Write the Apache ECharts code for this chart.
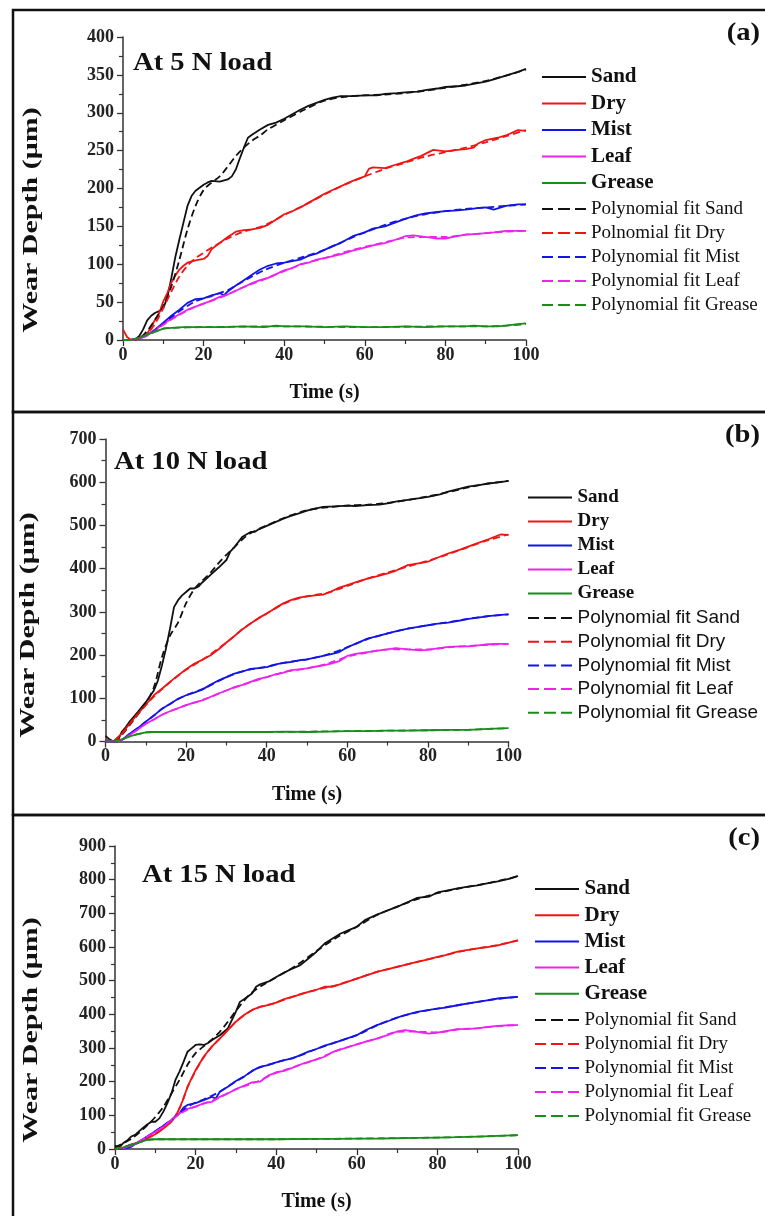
<!DOCTYPE html>
<html>
<head>
<meta charset="utf-8">
<script src="https://cdn.jsdelivr.net/npm/echarts@6/dist/echarts.min.js"></script>
<style>
html, body { margin: 0; padding: 0; background: #fff; }
#main { width: 765px; height: 1216px; }
</style>
</head>
<body>
<div id="main"></div>
<script>
// ---------- data read off the figure : [time (s), wear depth (um)] ----------
// panel (a) 5 N
var sandA = [[0,0],[2,0],[3,1],[4,5],[5,14],[6,26],[7,32],[8,36],[9,38],[10,42],[11,56],[12,82],[13,110],[14,133],[15,155],[16,177],[17,190],[18,197],[19,201],[20,205],[21,208],[22,210],[24,209],[26,212],[27,216],[28,225],[29,240],[30,254],[31,267],[32,271],[34,278],[36,284],[38,287],[40,292],[42,298],[44,304],[46,309],[48,313],[50,317],[52,320],[54,322],[57,322],[60,323],[63,323],[65,325],[68,326],[70,327],[73,328],[75,330],[78,332],[80,334],[83,335],[85,336],[88,339],[90,341],[92,344],[95,349],[98,354],[100,358]];
var dryA = [[0,14],[1,4],[2,0],[4,2],[6,8],[7,18],[8,27],[9,36],[10,51],[11,62],[12,76],[13,85],[14,93],[15,98],[16,102],[18,105],[20,107],[21,111],[22,120],[23,124],[24,128],[26,136],[28,143],[30,145],[32,146],[34,148],[36,152],[38,159],[40,166],[42,170],[44,175],[46,181],[48,187],[50,193],[52,198],[54,203],[57,210],[60,216],[61,226],[62,228],[65,227],[68,232],[70,235],[72,239],[74,243],[77,251],[80,249],[83,251],[85,252],[87,254],[88,259],[90,264],[93,267],[95,270],[98,277],[100,276]];
var mistA = [[0,0],[2,0],[4,2],[6,7],[8,14],[10,23],[12,32],[14,40],[16,49],[18,54],[20,55],[22,59],[24,62],[25,59],[26,64],[28,72],[30,79],[32,86],[34,93],[36,98],[38,101],[40,102],[42,104],[44,106],[46,111],[48,114],[50,119],[52,124],[54,128],[57,137],[60,142],[62,147],[65,150],[68,156],[70,160],[73,165],[75,167],[78,169],[80,170],[83,171],[85,172],[88,174],[90,175],[92,172],[95,177],[98,179],[100,179]];
var leafA = [[0,0],[2,0],[4,2],[6,7],[8,13],[10,21],[12,28],[14,34],[16,40],[18,44],[20,48],[22,52],[24,57],[26,60],[28,65],[30,70],[32,75],[34,79],[36,82],[38,87],[40,92],[42,95],[44,100],[46,102],[48,106],[50,108],[54,113],[57,118],[60,122],[62,125],[65,128],[68,133],[70,137],[72,138],[75,136],[78,134],[80,134],[82,136],[85,139],[88,140],[90,141],[92,142],[95,144],[98,144],[100,144]];
var greaseA = [[0,0],[2,0],[4,3],[6,7],[8,11],[10,15],[12,16],[15,17],[20,17],[25,17],[30,18],[35,17],[38,19],[40,18],[45,18],[50,17],[55,18],[60,17],[65,17],[70,18],[75,17],[80,18],[85,18],[87,19],[90,18],[93,18],[95,19],[98,21],[100,22]];
var sandFitA = [[2,0],[4,2],[6,12],[8,27],[10,45],[12,71],[14,106],[16,146],[18,177],[20,198],[22,208],[24,216],[26,229],[28,243],[30,254],[32,263],[34,270],[36,278],[40,290],[45,304],[50,316],[55,321],[60,323],[65,324],[70,326],[75,329],[80,333],[85,337],[90,342],[95,349],[100,357]];
var dryFitA = [[2,0],[4,2],[6,8],[8,22],[10,42],[12,64],[14,84],[16,98],[18,108],[20,115],[22,122],[24,128],[26,134],[28,139],[30,143],[35,151],[40,165],[45,178],[50,192],[55,205],[60,216],[65,226],[70,234],[75,242],[80,248],[85,254],[90,261],[95,269],[100,277]];
var mistFitA = [[2,0],[4,2],[6,6],[8,13],[10,21],[12,30],[14,38],[16,45],[18,51],[20,55],[22,58],[24,62],[26,66],[28,72],[30,78],[32,84],[35,92],[40,102],[45,110],[50,119],[55,131],[60,142],[65,152],[70,160],[75,166],[80,170],[85,173],[90,175],[95,177],[100,179]];
var leafFitA = [[2,0],[4,2],[6,6],[8,12],[10,20],[12,27],[14,33],[16,39],[18,44],[20,48],[25,58],[30,70],[35,80],[40,91],[45,101],[50,108],[55,116],[60,123],[65,129],[70,135],[75,136],[80,136],[85,139],[90,141],[95,143],[100,144]];
var greaseFitA = [[2,0],[4,3],[6,7],[8,11],[10,15],[12,16],[20,17],[40,18],[60,17],[80,18],[90,18],[95,19],[100,21]];

// panel (b) 10 N
var sandB = [[0,13],[1,5],[2,0],[3,0],[4,22],[5,33],[6,46],[8,68],[10,91],[12,118],[13,141],[14,176],[15,215],[16,261],[17,311],[18,327],[19,338],[20,346],[21,354],[22,354],[23,358],[24,368],[26,385],[28,402],[30,420],[31,440],[32,450],[34,474],[36,485],[37,485],[38,491],[40,499],[42,507],[44,515],[46,522],[48,528],[50,534],[52,539],[54,543],[57,544],[60,546],[62,545],[65,547],[68,548],[70,551],[72,555],[75,559],[78,563],[80,566],[83,572],[85,578],[88,585],[90,590],[93,594],[95,597],[98,600],[100,603]];
var dryB = [[0,5],[2,0],[4,18],[6,41],[8,64],[10,85],[12,107],[14,122],[16,138],[18,153],[20,167],[22,180],[24,189],[26,199],[28,213],[30,229],[32,244],[34,260],[36,273],[38,286],[40,296],[42,308],[44,319],[46,327],[48,333],[50,336],[52,338],[54,340],[56,347],[58,356],[60,362],[62,368],[65,377],[68,384],[70,389],[72,395],[75,408],[78,413],[80,416],[82,424],[85,435],[88,444],[90,451],[92,458],[95,468],[98,479],[100,478]];
var mistB = [[0,0],[2,0],[4,3],[6,18],[8,31],[10,46],[12,60],[14,76],[16,87],[18,99],[20,107],[22,113],[24,120],[26,131],[28,141],[30,149],[32,157],[34,162],[36,168],[38,170],[40,172],[42,178],[44,182],[46,184],[48,188],[50,190],[52,194],[54,198],[56,202],[58,207],[60,218],[62,226],[65,238],[68,245],[70,250],[72,255],[75,261],[78,266],[80,269],[82,272],[85,275],[88,280],[90,284],[92,286],[95,290],[98,293],[100,294]];
var leafB = [[0,0],[2,0],[4,3],[6,15],[8,28],[10,41],[12,51],[14,62],[16,70],[18,77],[20,84],[22,90],[24,95],[26,103],[28,111],[30,118],[32,126],[34,131],[36,138],[38,145],[40,149],[42,155],[44,159],[46,165],[48,167],[50,169],[52,173],[54,176],[56,180],[58,186],[60,198],[62,203],[65,207],[68,211],[70,213],[72,216],[75,213],[78,211],[80,212],[82,215],[85,219],[88,220],[90,220],[92,222],[95,225],[98,226],[100,226]];
var greaseB = [[0,0],[2,0],[4,5],[6,12],[8,17],[10,21],[12,22],[15,22],[20,22],[30,22],[40,22],[45,23],[50,22],[55,23],[60,24],[65,24],[70,25],[75,25],[80,26],[85,27],[90,27],[95,29],[100,31]];
var sandFitB = [[2,0],[4,15],[6,38],[8,62],[10,88],[12,125],[14,195],[16,245],[18,275],[20,320],[22,352],[24,372],[26,390],[28,412],[30,432],[32,450],[34,468],[36,482],[40,500],[45,520],[50,535],[55,542],[60,546],[65,548],[70,552],[75,559],[80,567],[85,577],[90,588],[95,597],[100,603]];
var dryFitB = [[2,0],[4,16],[6,40],[8,63],[10,84],[12,104],[14,121],[16,137],[18,152],[20,166],[25,195],[30,229],[35,267],[40,296],[45,322],[50,336],[55,344],[60,360],[65,377],[70,391],[75,405],[80,418],[85,433],[90,450],[95,466],[100,479]];
var mistFitB = [[2,0],[4,3],[6,17],[8,31],[10,46],[12,60],[14,75],[16,87],[18,98],[20,107],[25,125],[30,149],[35,165],[40,173],[45,183],[50,190],[55,201],[60,218],[65,237],[70,250],[75,261],[80,269],[85,276],[90,284],[95,290],[100,294]];
var leafFitB = [[2,0],[4,3],[6,15],[8,28],[10,41],[12,51],[14,62],[16,70],[18,77],[20,84],[25,99],[30,118],[35,134],[40,149],[45,162],[50,169],[55,180],[60,196],[65,206],[70,213],[75,213],[80,213],[85,218],[90,221],[95,224],[100,226]];
var greaseFitB = [[2,0],[4,5],[6,12],[8,17],[10,21],[12,22],[20,22],[40,22],[60,24],[80,26],[90,27],[95,29],[100,31]];

// panel (c) 15 N
var sandC = [[0,10],[1,5],[2,17],[3,25],[4,37],[5,42],[6,53],[7,63],[8,73],[9,81],[10,81],[11,91],[12,111],[13,136],[14,165],[15,205],[16,230],[17,259],[18,289],[19,299],[20,309],[21,311],[22,309],[23,314],[24,323],[26,338],[28,358],[29,383],[30,408],[31,437],[32,445],[34,462],[35,482],[36,489],[38,497],[40,511],[42,524],[44,536],[46,546],[48,566],[50,586],[52,610],[54,625],[56,640],[58,650],[60,660],[62,680],[65,696],[68,710],[70,719],[72,730],[75,746],[78,750],[80,762],[82,767],[85,774],[88,780],[90,783],[92,788],[95,795],[98,803],[100,811]];
var dryC = [[0,0],[2,3],[4,14],[6,20],[8,32],[10,44],[12,61],[14,81],[15,96],[16,121],[17,150],[18,185],[19,210],[20,234],[22,274],[24,304],[26,328],[28,353],[30,378],[32,398],[34,413],[36,422],[38,427],[40,435],[42,445],[44,452],[46,459],[48,467],[50,473],[52,482],[54,482],[56,490],[58,498],[60,506],[62,514],[65,526],[68,535],[70,541],[72,547],[75,556],[78,564],[80,571],[82,576],[85,586],[88,592],[90,596],[92,599],[95,605],[98,614],[100,620]];
var mistC = [[0,0],[2,0],[4,7],[6,22],[8,37],[10,53],[12,69],[14,86],[16,106],[17,123],[18,131],[20,136],[22,145],[24,155],[25,150],[26,170],[28,185],[30,202],[32,215],[34,232],[36,244],[38,249],[40,257],[42,264],[44,269],[46,279],[48,289],[50,297],[52,307],[54,314],[56,322],[58,330],[60,338],[62,352],[65,368],[68,381],[70,390],[72,398],[75,407],[78,413],[80,417],[82,420],[85,427],[88,433],[90,437],[92,441],[95,447],[98,450],[100,452]];
var leafC = [[0,0],[2,2],[4,10],[6,20],[8,37],[10,51],[12,66],[14,86],[16,106],[18,119],[20,126],[22,136],[24,140],[26,155],[28,165],[30,178],[32,188],[34,198],[36,200],[38,218],[40,228],[42,232],[44,241],[46,251],[48,259],[50,266],[52,274],[54,288],[56,296],[58,303],[60,311],[62,318],[65,328],[68,340],[70,349],[72,353],[74,350],[76,346],[78,343],[80,346],[82,350],[85,356],[88,357],[90,358],[92,362],[95,366],[98,368],[100,368]];
var greaseC = [[0,0],[2,5],[4,12],[6,20],[8,27],[10,29],[15,29],[20,29],[30,29],[40,29],[50,30],[55,30],[60,31],[65,31],[70,32],[75,33],[80,34],[85,35],[90,37],[95,39],[100,41]];
var sandFitC = [[0,5],[4,30],[8,70],[10,95],[12,125],[14,165],[16,205],[18,250],[20,285],[22,305],[24,325],[26,348],[28,378],[30,410],[32,440],[34,465],[36,482],[40,510],[45,545],[50,588],[55,628],[60,660],[65,695],[70,720],[75,742],[80,760],[85,773],[90,784],[95,796],[100,810]];
var dryFitC = [[0,0],[4,12],[8,32],[10,44],[12,61],[14,83],[16,120],[18,183],[20,232],[22,272],[24,303],[26,328],[28,353],[30,378],[32,397],[34,412],[36,422],[40,435],[45,456],[50,473],[55,487],[60,506],[65,526],[70,541],[75,556],[80,570],[85,585],[90,596],[95,606],[100,620]];
var mistFitC = [[0,0],[4,7],[8,37],[10,53],[12,69],[14,86],[16,106],[18,125],[20,138],[22,147],[24,158],[26,170],[28,185],[30,201],[32,215],[35,238],[40,257],[45,274],[50,297],[55,318],[60,338],[65,367],[70,390],[75,406],[80,417],[85,427],[90,437],[95,446],[100,452]];
var leafFitC = [[0,0],[4,10],[8,37],[10,51],[12,66],[14,86],[16,104],[18,117],[20,126],[25,148],[30,177],[35,199],[40,226],[45,246],[50,266],[55,292],[60,311],[65,328],[70,348],[75,349],[80,346],[85,355],[90,359],[95,365],[100,368]];
var greaseFitC = [[0,0],[4,12],[8,27],[10,29],[20,29],[40,29],[60,31],[80,34],[90,37],[100,41]];

// names / axis ranges
var dataNames = ['Sand', 'Dry', 'Mist', 'Leaf', 'Grease'];
var fitNamesA = ['Polynomial fit Sand', 'Polnomial fit Dry', 'Polynomial fit Mist', 'Polynomial fit Leaf', 'Polynomial fit Grease'];
var fitNames = ['Polynomial fit Sand', 'Polynomial fit Dry', 'Polynomial fit Mist', 'Polynomial fit Leaf', 'Polynomial fit Grease'];
var loadTitles = ['At 5 N load', 'At 10 N load', 'At 15 N load'];
var panelTags = ['(a)', '(b)', '(c)'];
var yMax = [400, 700, 900];
var yStep = [50, 100, 100];
var colors = ['#111111', '#f01414', '#1414e6', '#ee22ee', '#1a8c1a'];

var myChart = echarts.init(document.getElementById('main'));

var serif = "'Liberation Serif', 'Times New Roman', serif";
var sans = "'Liberation Sans', Arial, sans-serif";

// legend icons: a solid bar and three dashes
var solidIcon = 'path://M0,0H44V2H0Z';
var dashIcon = 'path://M0,0H11V2H0Z M16,0H28V2H16Z M33,0H44V2H33Z';

var grids = [
    {left: 123, top: 37, width: 403, height: 303},
    {left: 105.5, top: 439, width: 403, height: 302.5},
    {left: 115, top: 846, width: 403, height: 303}
];

var panelData = [
    [sandA, dryA, mistA, leafA, greaseA],
    [sandB, dryB, mistB, leafB, greaseB],
    [sandC, dryC, mistC, leafC, greaseC]
];
var panelFits = [
    [sandFitA, dryFitA, mistFitA, leafFitA, greaseFitA],
    [sandFitB, dryFitB, mistFitB, leafFitB, greaseFitB],
    [sandFitC, dryFitC, mistFitC, leafFitC, greaseFitC]
];

var xAxes = [], yAxes = [], series = [];
for (var p = 0; p < 3; p++) {
    xAxes.push({
        type: 'value', gridIndex: p, min: 0, max: 100, interval: 20,
        name: 'Time (s)', nameLocation: 'middle', nameGap: 43,
        nameTextStyle: {fontFamily: serif, fontWeight: 'bold', fontSize: 20, color: '#111'},
        axisLine: {lineStyle: {color: '#333', width: 1.5}},
        axisTick: {length: 6, lineStyle: {color: '#333', width: 1.3}},
        minorTick: {show: true, splitNumber: 2, length: 4, lineStyle: {color: '#333', width: 1.2}},
        axisLabel: {fontFamily: serif, fontWeight: 'bold', fontSize: 18, color: '#222', margin: 6},
        splitLine: {show: false}
    });
    yAxes.push({
        type: 'value', gridIndex: p, min: 0, max: yMax[p], interval: yStep[p],
        axisLine: {show: true, lineStyle: {color: '#333', width: 1.5}},
        axisTick: {show: true, length: 6, lineStyle: {color: '#333', width: 1.3}},
        minorTick: {show: true, splitNumber: 2, length: 4, lineStyle: {color: '#333', width: 1.2}},
        axisLabel: {fontFamily: serif, fontWeight: 'bold', fontSize: 18, color: '#222', margin: 9},
        splitLine: {show: false}
    });
    var fn = p === 0 ? fitNamesA : fitNames;
    // 实测曲线
    for (var i = 0; i < 5; i++) {
        series.push({
            type: 'line', name: dataNames[i], xAxisIndex: p, yAxisIndex: p,
            data: panelData[p][i], symbol: 'none',
            lineStyle: {color: colors[i], width: 1.8},
            itemStyle: {color: colors[i]}
        });
    }
    // 多项式拟合 (虚线)
    for (var j = 0; j < 5; j++) {
        series.push({
            type: 'line', name: fn[j], xAxisIndex: p, yAxisIndex: p,
            data: panelFits[p][j], symbol: 'none', smooth: 0.3,
            lineStyle: {color: colors[j], width: 1.8, type: [7, 4]},
            itemStyle: {color: colors[j]}
        });
    }
}

// legends: bold list of data, then fits
var legends = [
    {left: 542, top: 66, itemWidth: 44, itemGap: 4.5, data: dataNames, icon: solidIcon,
        textStyle: {fontFamily: serif, fontWeight: 'bold', fontSize: 21, lineHeight: 22, color: '#111'}},
    {left: 542, top: 199, itemWidth: 44, itemGap: 4, data: fitNamesA, icon: dashIcon,
        textStyle: {fontFamily: serif, fontSize: 19, lineHeight: 20, color: '#111'}},
    {left: 528, top: 487.5, itemWidth: 45, itemGap: 4, data: dataNames, icon: solidIcon,
        textStyle: {fontFamily: serif, fontWeight: 'bold', fontSize: 19, lineHeight: 20, color: '#111'}},
    {left: 528, top: 608, itemWidth: 45, itemGap: 3.7, data: fitNames, icon: dashIcon,
        textStyle: {fontFamily: sans, fontSize: 19, lineHeight: 20, color: '#111'}},
    {left: 535, top: 878, itemWidth: 45, itemGap: 4.2, data: dataNames, icon: solidIcon,
        textStyle: {fontFamily: serif, fontWeight: 'bold', fontSize: 21, lineHeight: 22, color: '#111'}},
    {left: 535, top: 1010, itemWidth: 45, itemGap: 4, data: fitNames, icon: dashIcon,
        textStyle: {fontFamily: serif, fontSize: 19, lineHeight: 20, color: '#111'}}
];
for (var k = 0; k < legends.length; k++) {
    legends[k].orient = 'vertical';
    legends[k].padding = 0;
    legends[k].itemHeight = 2;
    legends[k].selectedMode = false;
}

// frames and text
var graphics = [
    {type: 'rect', shape: {x: 13, y: 10, width: 770, height: 402}, style: {fill: 'none', stroke: '#111', lineWidth: 2.5}},
    {type: 'rect', shape: {x: 13, y: 412, width: 770, height: 403}, style: {fill: 'none', stroke: '#111', lineWidth: 2.5}},
    {type: 'rect', shape: {x: 13, y: 815, width: 770, height: 420}, style: {fill: 'none', stroke: '#111', lineWidth: 2.5}}
];
var titlePos = [[133, 63], [114, 462], [142, 875]];
var tagY = [33, 435, 838];
var yTitlePos = [[32, 220], [29, 625], [32, 1030]];
for (var q = 0; q < 3; q++) {
    graphics.push({
        type: 'text', x: titlePos[q][0], y: titlePos[q][1], scaleX: 1.1,
        style: {text: loadTitles[q], font: 'bold 26px ' + serif, fill: '#111',
            textAlign: 'left', textVerticalAlign: 'middle', align: 'left', verticalAlign: 'middle'}
    });
    graphics.push({
        type: 'text', x: 760, y: tagY[q], scaleX: 1.1,
        style: {text: panelTags[q], font: 'bold 26px ' + serif, fill: '#111',
            textAlign: 'right', textVerticalAlign: 'middle', align: 'right', verticalAlign: 'middle'}
    });
    graphics.push({
        type: 'text', x: yTitlePos[q][0], y: yTitlePos[q][1], rotation: Math.PI / 2, scaleX: 1.5,
        style: {text: 'Wear Depth (\u03bcm)', font: 'bold 20px ' + serif, fill: '#111',
            textAlign: 'center', textVerticalAlign: 'middle', align: 'center', verticalAlign: 'middle'}
    });
}

option = {
    backgroundColor: '#fff',
    animation: false,
    grid: grids,
    xAxis: xAxes,
    yAxis: yAxes,
    legend: legends,
    graphic: {elements: graphics},
    series: series
};
myChart.setOption(option, true);
</script>
</body>
</html>
